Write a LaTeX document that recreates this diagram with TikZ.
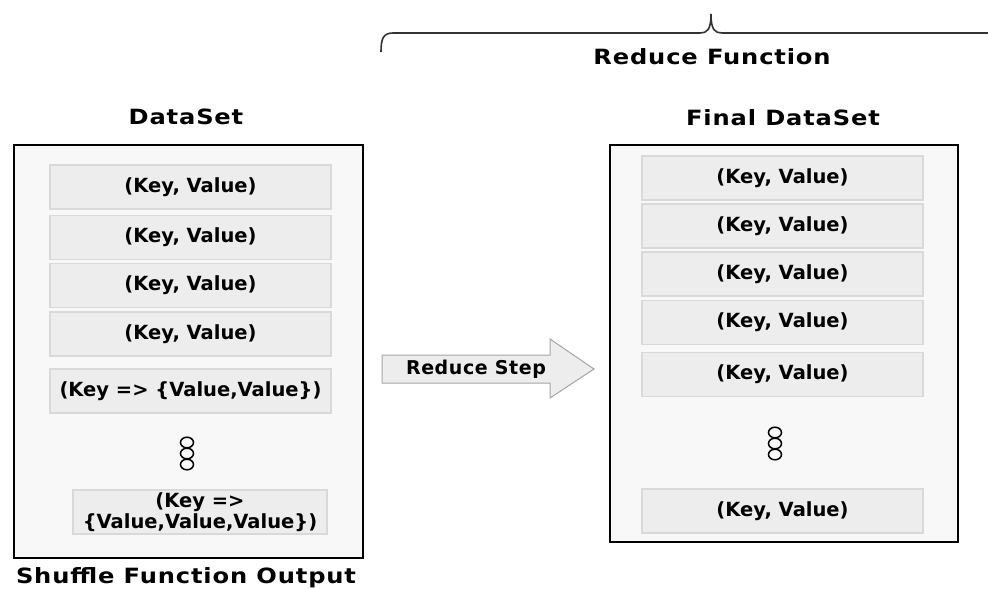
\documentclass[tikz,border=0pt]{standalone}
\usepackage{fontspec}
\setmainfont{DejaVu Sans}
\newfontfamily\headfont{DejaVu Sans}[FakeStretch=1.15,LetterSpace=4]
\newfontfamily\stepfont{DejaVu Sans}[LetterSpace=3]
\usetikzlibrary{positioning}
\definecolor{panelgray}{HTML}{F8F8F8}
\definecolor{rowgray}{HTML}{EDEDED}
\definecolor{rowedge}{HTML}{D9D9D9}
\definecolor{arrowgray}{HTML}{EDEDED}

\begin{document}
\begin{tikzpicture}[
        x=1pt, y=-1pt,
        panel/.style={draw=black, line width=2pt, fill=panelgray, inner sep=0pt},
        kvrow/.style={draw=rowedge, line width=1.5pt, fill=rowgray, inner sep=0pt,
          minimum width=281pt, minimum height=44pt, align=center,
          font=\fontsize{19.5}{21}\selectfont\bfseries},
        title/.style={font=\headfont\fontsize{21}{24}\selectfont\bfseries}
      ]
        \useasboundingbox (0,0) rectangle (988,589);

        % Reduce function brace
        \draw[line width=1.6pt, black!80]
          (381,52) .. controls (381,39) and (383,33) .. (393,33) -- (700,33)
          .. controls (707,33) and (711,30) .. (711,14)
          .. controls (711,30) and (715,33) .. (722,33) -- (988,33);
        \node[title] (reduce) at (712,57) {Reduce Function};

        % Shuffle output (left)
        \node[title] (dataset) at (186,117) {DataSet};
        \node[panel, minimum width=349pt, minimum height=413pt] (shuffle) at (188.5,351.5) {};
        \node[kvrow] (l1) at (190.5,187) {(Key, Value)};
        \node[kvrow] (l2) at (190.5,237.5) {(Key, Value)};
        \node[kvrow] (l3) at (190.5,285.5) {(Key, Value)};
        \node[kvrow] (l4) at (190.5,334) {(Key, Value)};
        \node[kvrow] (l5) at (190.5,391) {(Key => \{Value,Value\})};
        \coordinate (ldots) at (187,453.5);
        \node[kvrow, minimum width=254pt] (l6) at (200,512) {(Key =>\\\{Value,Value,Value\})};
        \node[title] (shufout) at (186,578) {Shuffle Function Output};

        % Reduce step arrow
        \draw[draw=black!35, line width=1pt, fill=arrowgray]
          (382,355) -- (550,355) -- (550,339) -- (594,369) -- (550,398)
          -- (550,383) -- (382,383) -- cycle;
        \node[font=\stepfont\fontsize{19}{21}\selectfont\bfseries] (rstep) at (476,369) {Reduce Step};

        % Final dataset (right)
        \node[title] (finalset) at (783,118) {Final DataSet};
        \node[panel, minimum width=348pt, minimum height=397pt] (final) at (784,343.5) {};
        \node[kvrow] (r1) at (782.5,178) {(Key, Value)};
        \node[kvrow] (r2) at (782.5,226) {(Key, Value)};
        \node[kvrow] (r3) at (782.5,274) {(Key, Value)};
        \node[kvrow] (r4) at (782.5,322.5) {(Key, Value)};
        \node[kvrow] (r5) at (782.5,374.5) {(Key, Value)};
        \coordinate (rdots) at (775,443.5);
        \node[kvrow] (r6) at (782.5,511) {(Key, Value)};

        % Ellipsis dots
        \foreach \dy in {-11,0,11} {
          \draw[line width=1.5pt] ([yshift=\dy pt]ldots) ellipse (6.5 and 5.3);
          \draw[line width=1.5pt] ([yshift=\dy pt]rdots) ellipse (6.5 and 5.3);
        }
      \end{tikzpicture}
\end{document}
